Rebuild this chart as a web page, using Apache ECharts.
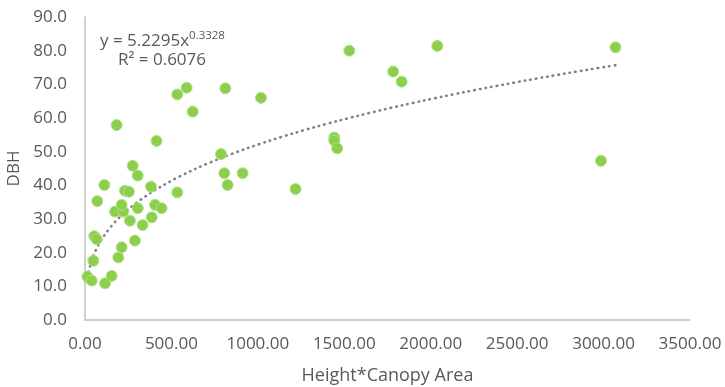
<!DOCTYPE html>
<html>
<head>
<meta charset="utf-8">
<script src="https://cdn.jsdelivr.net/npm/echarts@6/dist/echarts.min.js"></script>
<style>
    html,body{margin:0;padding:0;background:#fff;}
    #box{width:725px;height:387px;}
</style>
</head>
<body>
<div id="box"></div>
<script>
// Height*Canopy Area (x) and DBH (y) of each tree
const areaValues = [14, 39, 116, 154, 48, 193, 212, 289, 54, 68, 333, 260, 386, 174, 222, 212, 305, 405, 443, 71,
    231, 254, 382, 534, 112, 305, 276, 414, 183, 623, 534, 588, 812, 1018, 787, 806, 825, 912, 1218,
    1442, 1442, 1459, 1529, 1783, 1832, 2038, 2985, 3069];
const dbhValues = [12.9, 11.7, 10.9, 13.1, 17.6, 18.6, 21.6, 23.6, 24.9, 24.0, 28.2, 29.5, 30.5, 32.2, 32.2, 34.2, 33.2, 34.2, 33.2, 35.3,
    38.4, 38.1, 39.6, 37.9, 40.1, 42.9, 45.8, 53.2, 57.9, 61.9, 67.0, 69.0, 68.8, 66.0, 49.3, 43.6, 40.1, 43.6, 38.9,
    54.2, 53.3, 51.0, 80.0, 73.8, 70.8, 81.4, 47.3, 81.0];

// power trendline shown on the chart
const trendA = 5.2295;
const trendB = 0.3328;
const trendR2 = '0.6076';

const xTicks = {min: 0, max: 3500, interval: 500};
const yTicks = {min: 0, max: 90, interval: 10};

const textColor = '#595959';
const fontFamily = '"Open Sans", "Noto Sans", sans-serif';

let points = areaValues.map((x, i) => [x, dbhValues[i]]);

// sample the fitted curve across the data range
let xMin = Math.min(...areaValues);
let xMax = Math.max(...areaValues);
let trendData = [];
for (let i = 0; i <= 120; i++) {
    let x = xMin + (xMax - xMin) * i / 120;
    trendData.push([x, trendA * Math.pow(x, trendB)]);
}

let chart = echarts.init(document.getElementById('box'));
chart.setOption({
    animation: false,
    textStyle: {fontFamily: fontFamily},
    grid: {left: 85, right: 35, top: 17, bottom: 67, outerBoundsMode: 'none', containLabel: false},
    xAxis: {
        type: 'value',
        min: xTicks.min,
        max: xTicks.max,
        interval: xTicks.interval,
        name: 'Height*Canopy Area',
        nameLocation: 'middle',
        nameGap: 47,
        nameTextStyle: {color: textColor, fontSize: 18, fontFamily: fontFamily},
        axisLine: {show: true, lineStyle: {color: '#bfbfbf', width: 1.5}},
        axisTick: {show: false},
        splitLine: {show: false},
        axisLabel: {
            color: textColor,
            fontSize: 17,
            margin: 16,
            fontFamily: fontFamily,
            formatter: v => v.toFixed(2)
        }
    },
    yAxis: {
        type: 'value',
        min: yTicks.min,
        max: yTicks.max,
        interval: yTicks.interval,
        name: 'DBH',
        nameLocation: 'middle',
        nameGap: 62,
        nameTextStyle: {color: textColor, fontSize: 17, fontFamily: fontFamily},
        axisLine: {show: true, lineStyle: {color: '#bfbfbf', width: 1.5}},
        axisTick: {show: false},
        splitLine: {show: false},
        axisLabel: {
            color: textColor,
            fontSize: 17,
            margin: 18,
            fontFamily: fontFamily,
            formatter: v => v.toFixed(1)
        }
    },
    graphic: [
        {
            type: 'text',
            left: 100,
            top: 30,
            style: {
                text: '{a|y = ' + trendA + 'x}{b|' + trendB + '}',
                rich: {
                    a: {fontSize: 17, lineHeight: 22, fill: textColor, fontFamily: fontFamily},
                    b: {fontSize: 11.5, lineHeight: 12, verticalAlign: 'top', fill: textColor, fontFamily: fontFamily}
                }
            }
        },
        {
            type: 'text',
            left: 118,
            top: 52,
            style: {
                text: 'R² = ' + trendR2,
                fontSize: 17,
                fill: textColor,
                fontFamily: fontFamily
            }
        }
    ],
    series: [
        {
            type: 'line',
            data: trendData,
            showSymbol: false,
            smooth: true,
            silent: true,
            z: 1,
            lineStyle: {color: '#808080', width: 2.6, type: [0.5, 5.2], cap: 'round'}
        },
        {
            type: 'scatter',
            data: points,
            symbolSize: 11,
            z: 2,
            itemStyle: {color: '#8ccf4a', borderColor: '#b3df8c', borderWidth: 1, opacity: 1}
        }
    ]
});
</script>
</body>
</html>
